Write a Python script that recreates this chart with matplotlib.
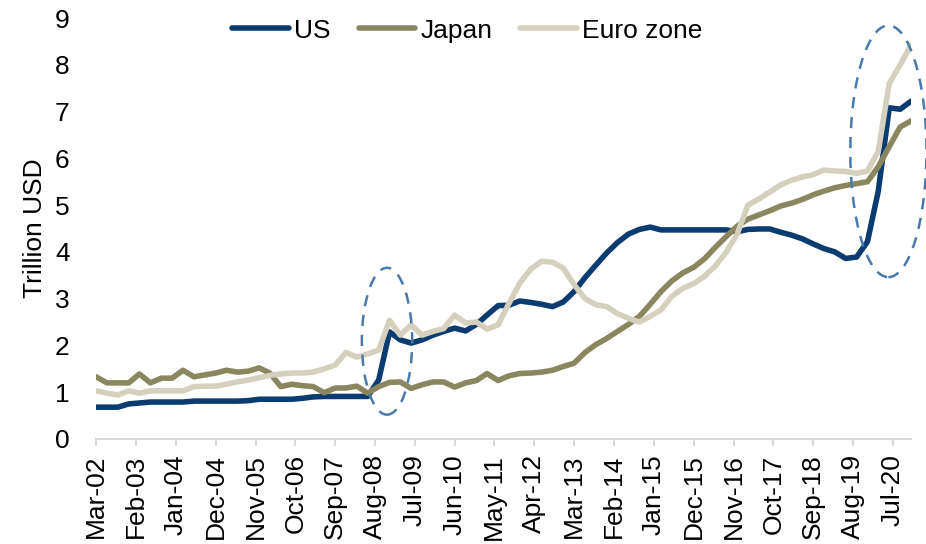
import numpy as np
import pandas as pd
import matplotlib
matplotlib.use('Agg')
import matplotlib.pyplot as plt
import matplotlib.dates as mdates
from matplotlib.patches import Ellipse

plt.rcParams['font.family'] = ['Liberation Sans', 'DejaVu Sans']

# quarterly observations, Mar-02 .. Dec-20
dates = pd.date_range('2002-03-01', '2020-12-01', freq='3MS')

us = [0.68, 0.68, 0.68, 0.75, 0.77, 0.79, 0.79, 0.79, 0.79, 0.81,
      0.81, 0.81, 0.81, 0.81, 0.82, 0.85, 0.85, 0.85, 0.85, 0.87,
      0.90, 0.91, 0.91, 0.91, 0.91, 0.91, 1.26, 2.29, 2.12, 2.05,
      2.12, 2.22, 2.30, 2.37, 2.31, 2.45, 2.65, 2.85, 2.86, 2.95,
      2.92, 2.88, 2.83, 2.93, 3.15, 3.45, 3.72, 3.98, 4.20, 4.38,
      4.48, 4.53, 4.47, 4.47, 4.47, 4.47, 4.47, 4.47, 4.47, 4.43,
      4.48, 4.49, 4.49, 4.42, 4.36, 4.28, 4.17, 4.07, 4.00, 3.86,
      3.89, 4.22, 5.30, 7.08, 7.05, 7.22]

japan = [1.33, 1.20, 1.20, 1.20, 1.39, 1.20, 1.30, 1.30, 1.47, 1.33,
         1.37, 1.41, 1.47, 1.43, 1.45, 1.52, 1.41, 1.12, 1.17, 1.14,
         1.12, 0.99, 1.09, 1.09, 1.13, 0.98, 1.12, 1.21, 1.22, 1.08,
         1.16, 1.22, 1.22, 1.11, 1.20, 1.25, 1.40, 1.25, 1.35, 1.40,
         1.41, 1.43, 1.47, 1.55, 1.62, 1.85, 2.02, 2.15, 2.30, 2.45,
         2.62, 2.88, 3.15, 3.38, 3.55, 3.67, 3.85, 4.10, 4.33, 4.55,
         4.70, 4.79, 4.88, 4.98, 5.04, 5.12, 5.22, 5.30, 5.37, 5.42,
         5.46, 5.50, 5.82, 6.25, 6.67, 6.80]

euro = [1.03, 0.98, 0.94, 1.03, 0.98, 1.03, 1.03, 1.03, 1.03, 1.12,
        1.13, 1.13, 1.17, 1.22, 1.26, 1.31, 1.36, 1.39, 1.41, 1.41,
        1.43, 1.50, 1.58, 1.85, 1.75, 1.82, 1.90, 2.54, 2.22, 2.44,
        2.22, 2.30, 2.36, 2.65, 2.48, 2.50, 2.35, 2.44, 2.90, 3.33,
        3.63, 3.80, 3.78, 3.65, 3.30, 3.00, 2.87, 2.83, 2.68, 2.58,
        2.50, 2.62, 2.76, 3.05, 3.22, 3.32, 3.48, 3.70, 4.00, 4.38,
        5.00, 5.13, 5.28, 5.43, 5.53, 5.60, 5.65, 5.75, 5.73, 5.72,
        5.68, 5.73, 6.15, 7.60, 8.00, 8.42]

tick_dates = pd.date_range('2002-03-01', periods=21, freq='11MS')

# dashed rings: centre date, centre value, width (days), height (trillion)
ring_centres = ['2008-11-10', '2020-05-25']
ring_values = [2.09, 6.15]
ring_widths = [423, 640]
ring_heights = [3.14, 5.38]

US_COL = '#0b3c6f'
JP_COL = '#8a8660'
EU_COL = '#d4d0bd'
RING_COL = '#4a7aab'

fig = plt.figure(figsize=(9.26, 5.44), dpi=100)
ax = fig.add_axes([96 / 926, 1 - 439 / 544, (911 - 96) / 926, (439 - 18) / 544])

ax.plot(dates, us, color=US_COL, lw=4, label='US', solid_capstyle='round')
ax.plot(dates, japan, color=JP_COL, lw=4, label='Japan', solid_capstyle='round')
ax.plot(dates, euro, color=EU_COL, lw=4, label='Euro zone', solid_capstyle='round')

for c, yc, w, h in zip(ring_centres, ring_values, ring_widths, ring_heights):
    ax.add_patch(Ellipse((mdates.date2num(pd.Timestamp(c)), yc), w, h,
                         fill=False, edgecolor=RING_COL, lw=1.8,
                         linestyle=(0, (4.5, 3.5)), clip_on=False, zorder=5))

ax.set_xlim(dates[0], dates[-1])
ax.set_ylim(0, 9)
ax.set_yticks(range(0, 10))
ax.set_xticks(tick_dates)
ax.set_xticklabels([d.strftime('%b-%y') for d in tick_dates], rotation=90)

for s in ['top', 'right', 'left']:
    ax.spines[s].set_visible(False)
ax.spines['bottom'].set_color('#d9d9d9')
ax.spines['bottom'].set_linewidth(1.5)

ax.tick_params(axis='y', length=0, pad=19, labelsize=19)
ax.tick_params(axis='x', length=5, width=1.5, color='#d9d9d9', pad=6, labelsize=19)
ax.set_ylabel('Trillion USD', fontsize=19, labelpad=6)

fig.legend(loc='upper center', bbox_to_anchor=(0.505, 0.99), ncol=3, frameon=False,
           fontsize=19, handlelength=2.15, handletextpad=0.2, columnspacing=1.05,
           borderaxespad=0.1)

fig.savefig('out.png', dpi=100)
